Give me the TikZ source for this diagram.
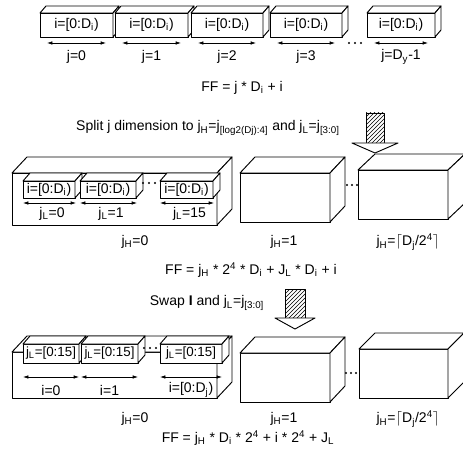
\documentclass[tikz,border=0pt]{standalone}
\usepackage{fontspec}
\setmainfont{Liberation Sans}
\usetikzlibrary{arrows.meta,patterns}

\begin{document}
\begin{tikzpicture}[x=0.75pt,y=-0.75pt,line join=round,
  font=\fontsize{10.5}{12}\selectfont,
  face/.style={draw,fill=white,line width=0.7pt},
  span/.style={{Latex[length=4pt,width=2.6pt]}-{Latex[length=4pt,width=2.6pt]},line width=0.5pt},
  hatch/.style={draw,line width=0.6pt,pattern=north east lines}]
\useasboundingbox (0,0) rectangle (463,459);

% row 1: one slab per j
\foreach \xa/\xb/\lab [count=\n] in {40/113/j=0,115/188/j=1,191/263/j=2,270/342/j=3,367/435/j=D\textsubscript{y}-1}
{
  \path[face] (\xa,13) rectangle (\xb,37);
  \path[face] (\xa,13) -- (\xa+6,6) -- (\xb+6,6) -- (\xb,13) -- cycle;
  \path[face] (\xb,13) -- (\xb+6,6) -- (\xb+6,30) -- (\xb,37) -- cycle;
  \node (slab\n) at ({(\xa+\xb)/2},25) {i=[0:D\textsubscript{i})};
  \draw[span] (\xa+7,43) -- (\xb-7,43);
  \node (j\n) at ({(\xa+\xb)/2},57) {\lab};
}
\foreach \x in {349,355,361}
  \fill (\x,43) circle (0.9pt);

\node (ff1) at (242,88) {FF = j * D\textsubscript{i} + i};

\node (split) at (208,128) {Split j dimension to j\textsubscript{H}=j\textsubscript{[log2(Dj):4]} and j\textsubscript{L}=j\textsubscript{[3:0]}};
\path[hatch] (366,113) rectangle (384,143);
\path[face] (352,143) -- (398,143) -- (375,153) -- cycle;

% row 2: blocks of j_H
\foreach \xa/\ya/\xb/\yb/\dx in {12/173/217/225/15,240/173/330/222/15,358/170/448/219/17}
{
  \path[face] (\xa,\ya) rectangle (\xb,\yb);
  \path[face] (\xa,\ya) -- ++(\dx,-16) -- (\xb+\dx,\ya-16) -- (\xb,\ya) -- cycle;
  \path[face] (\xb,\ya) -- (\xb+\dx,\ya-16) -- (\xb+\dx,\yb-16) -- (\xb,\yb) -- cycle;
}
\foreach \xa/\xb/\lab [count=\n] in {23/75/0,80/136/1,160/213/15}
{
  \path[face] (\xa,181) rectangle (\xb,198);
  \path[face] (\xa,181) -- (\xa+7,173) -- (\xb+7,173) -- (\xb,181) -- cycle;
  \path[face] (\xb,181) -- (\xb+7,173) -- (\xb+7,190) -- (\xb,198) -- cycle;
  \node[inner sep=1pt] (row\n) at ({(\xa+\xb)/2},190) {i=[0:D\textsubscript{i})};
  \draw[span] (\xa,203) -- (\xb+1,203);
  \node (jl\n) at ({(\xa+\xb)/2+3},214) {j\textsubscript{L}=\lab};
}
\foreach \x in {143,149,155}
  \fill (\x,183) circle (0.9pt);
\foreach \x in {347,352,357}
  \fill (\x,185) circle (0.9pt);

\node (jh0) at (135,242) {j\textsubscript{H}=0};
\node (jh1) at (284,242) {j\textsubscript{H}=1};
\node (jhn) at (408,242) {j\textsubscript{H}=$\lceil$D\textsubscript{j}/2\textsuperscript{4}$\rceil$};

\node (ff2) at (251,270) {FF = j\textsubscript{H} * 2\textsuperscript{4} * D\textsubscript{i} + J\textsubscript{L} * D\textsubscript{i} + i};

\node (swap) at (207,303) {Swap \textbf{I} and j\textsubscript{L}=j\textsubscript{[3:0]}};
\path[hatch] (285,289) rectangle (305,318);
\path[face] (275,318) -- (315,318) -- (295,329) -- cycle;

% row 3: after the swap
\foreach \xa/\ya/\xb/\yb/\dx in {12/352/217/398/15,240/353/330/402/15,359/349/448/398/16}
{
  \path[face] (\xa,\ya) rectangle (\xb,\yb);
  \path[face] (\xa,\ya) -- ++(\dx,-16) -- (\xb+\dx,\ya-16) -- (\xb,\ya) -- cycle;
  \path[face] (\xb,\ya) -- (\xb+\dx,\ya-16) -- (\xb+\dx,\yb-16) -- (\xb,\yb) -- cycle;
}
\foreach \xa/\xb/\lab [count=\n] in {23/79/i=0,81/138/i=1,160/222/i=[0:D\textsubscript{j})}
{
  \path[face] (\xa,344) rectangle (\xb,363);
  \path[face] (\xa,344) -- (\xa+7,336) -- (\xb+7,336) -- (\xb,344) -- cycle;
  \path[face] (\xb,344) -- (\xb+7,336) -- (\xb+7,355) -- (\xb,363) -- cycle;
  \node[inner sep=1pt,font=\fontsize{10}{12}\selectfont] (low\n) at ({(\xa+\xb)/2},353) {j\textsubscript{L}=[0:15]};
  \draw[span] (\xa,377) -- (\xb,377);
  \node (ii\n) at ({(\xa+\xb)/2},390) {\lab};
}
\foreach \x in {144,150,156}
  \fill (\x,348) circle (0.9pt);
\foreach \x in {346,351,356}
  \fill (\x,373) circle (0.9pt);

\node (kh0) at (135,419) {j\textsubscript{H}=0};
\node (kh1) at (284,419) {j\textsubscript{H}=1};
\node (khn) at (408,419) {j\textsubscript{H}=$\lceil$D\textsubscript{j}/2\textsuperscript{4}$\rceil$};

\node (ff3) at (248,438) {FF = j\textsubscript{H} * D\textsubscript{i} * 2\textsuperscript{4} + i * 2\textsuperscript{4} + J\textsubscript{L}};
\end{tikzpicture}
\end{document}
